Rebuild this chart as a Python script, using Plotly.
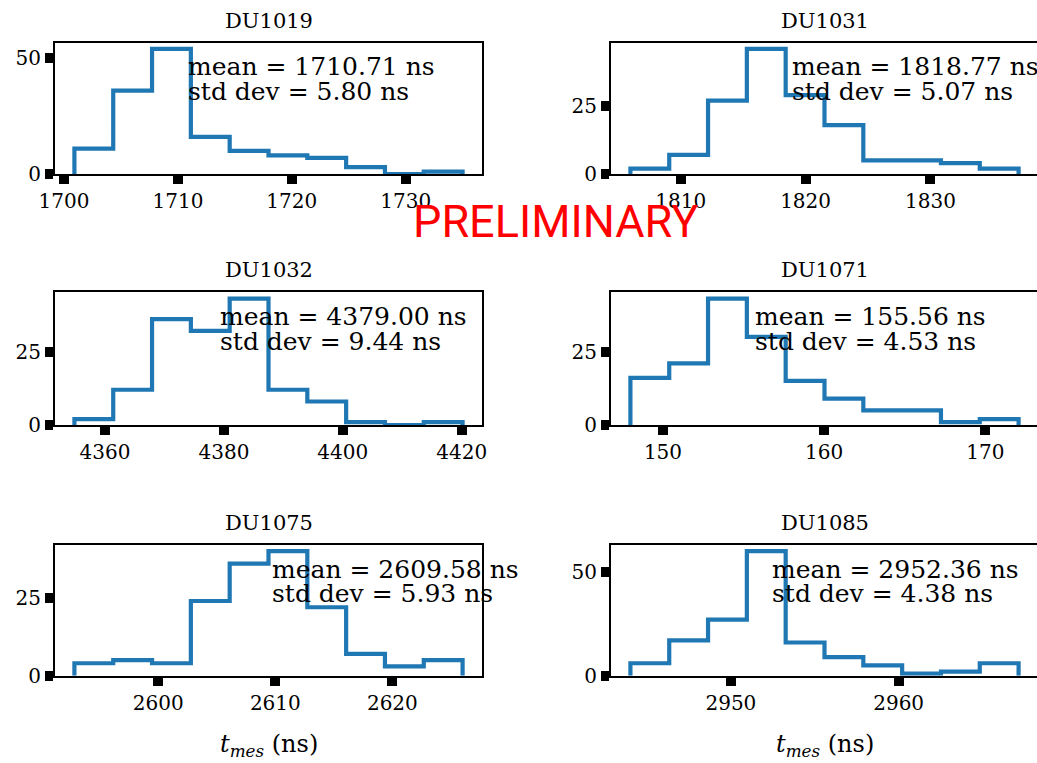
import plotly.graph_objects as go

# ---------------- data ----------------
names = ["DU1019", "DU1031", "DU1032", "DU1071", "DU1075", "DU1085"]
bin_start = [1700.91, 1805.97, 4354.85, 147.98, 2592.83, 2944.01]
bin_width = [3.409, 3.109, 6.53, 2.408, 3.317, 2.314]
counts_1019 = [11, 36, 54, 16, 10, 8, 7, 3, 0, 1]
counts_1031 = [2, 7, 27, 46, 29, 18, 5, 5, 4, 2]
counts_1032 = [2, 12, 36, 32, 43, 12, 8, 1, 0, 1]
counts_1071 = [16, 21, 43, 30, 15, 9, 5, 5, 1, 2]
counts_1075 = [4, 5, 4, 24, 36, 40, 22, 7, 3, 5]
counts_1085 = [6, 17, 27, 60, 16, 9, 5, 1, 2, 6]
counts = [counts_1019, counts_1031, counts_1032, counts_1071, counts_1075, counts_1085]
means = [1710.71, 1818.77, 4379.00, 155.56, 2609.58, 2952.36]
stds = [5.80, 5.07, 9.44, 4.53, 5.93, 4.38]
xticks = [[1700, 1710, 1720, 1730], [1810, 1820, 1830], [4360, 4380, 4400, 4420],
          [150, 160, 170], [2600, 2610, 2620], [2950, 2960]]
yticks = [[0, 50], [0, 25], [0, 25], [0, 25], [0, 25], [0, 50]]
xlabel = "<i>t</i><sub><i>mes</i></sub> (ns)"
watermark = "PRELIMINARY"

# ---------------- layout geometry (pixels) ----------------
W, H = 1037, 763
col_px = [(55, 482), (611, 1038)]
row_px = [(42.7, 174.0), (292.3, 425.0), (545.0, 675.7)]
SERIF = "DejaVu Serif"
BLUE = "#1f77b4"

fig = go.Figure()
annotations = []

for i, name in enumerate(names):
    r, c = divmod(i, 2)
    n = len(counts[i])
    edges = [bin_start[i] + k * bin_width[i] for k in range(n + 1)]
    xs = [edges[0]] + edges[:n] + [edges[n]]
    ys = [0] + counts[i] + [0]
    ax = "" if i == 0 else str(i + 1)
    fig.add_trace(go.Scatter(
        x=xs, y=ys, mode="lines", line=dict(color=BLUE, width=4.2, shape="hv"),
        xaxis="x" + ax, yaxis="y" + ax, showlegend=False, hoverinfo="skip"))

    span = edges[-1] - edges[0]
    lo, hi = edges[0] - 0.05 * span, edges[-1] + 0.05 * span
    x0p, x1p = col_px[c]
    vis_right = min(x1p, W)
    hi_vis = lo + (hi - lo) * (vis_right - x0p) / (x1p - x0p)
    top, bot = row_px[r]
    ymax = 1.05 * max(counts[i])

    axis_common = dict(showline=True, linecolor="black", linewidth=2,
                       ticks="outside", ticklen=8, tickwidth=10, tickcolor="black",
                       showgrid=False, zeroline=False, automargin=False,
                       tickfont=dict(family=SERIF, size=20, color="black"))
    fig.update_layout(**{
        "xaxis" + ax: dict(domain=[x0p / W, vis_right / W], range=[lo, hi_vis],
                           anchor="y" + ax, tickvals=xticks[i], mirror=True,
                           **axis_common),
        "yaxis" + ax: dict(domain=[1 - bot / H, 1 - top / H], range=[0, ymax],
                           anchor="x" + ax, tickvals=yticks[i], mirror=(c == 0),
                           **axis_common),
    })

    # subplot title
    annotations.append(dict(text=name, x=((x0p + x1p) / 2) / W,
                            y=1 - (top - 22) / H, xref="paper", yref="paper",
                            xanchor="center", yanchor="middle", showarrow=False,
                            font=dict(family=SERIF, size=21, color="black")))
    # stats text
    annotations.append(dict(text=f"mean = {means[i]:.2f} ns", x=means[i], xref="x" + ax,
                            y=0.815, yref="y" + ax + " domain", xanchor="left", yanchor="middle",
                            showarrow=False, font=dict(family=SERIF, size=25, color="black")))
    annotations.append(dict(text=f"std dev = {stds[i]:.2f} ns", x=means[i], xref="x" + ax,
                            y=0.63, yref="y" + ax + " domain", xanchor="left", yanchor="middle",
                            showarrow=False, font=dict(family=SERIF, size=25, color="black")))
    if r == 2:
        annotations.append(dict(text=xlabel, x=((x0p + x1p) / 2) / W, y=1 - 745 / H,
                                xref="paper", yref="paper", xanchor="center", yanchor="middle",
                                showarrow=False, font=dict(family=SERIF, size=24, color="black")))

annotations.append(dict(text=watermark, x=555 / W, y=1 - 222 / H, xref="paper", yref="paper",
                        xanchor="center", yanchor="middle", showarrow=False,
                        font=dict(family="Roboto, sans-serif", size=45, color="#ff0000")))

fig.update_layout(width=W, height=H, margin=dict(l=0, r=0, t=0, b=0),
                  paper_bgcolor="white", plot_bgcolor="white",
                  annotations=annotations, showlegend=False)

fig.write_html("out.html")
